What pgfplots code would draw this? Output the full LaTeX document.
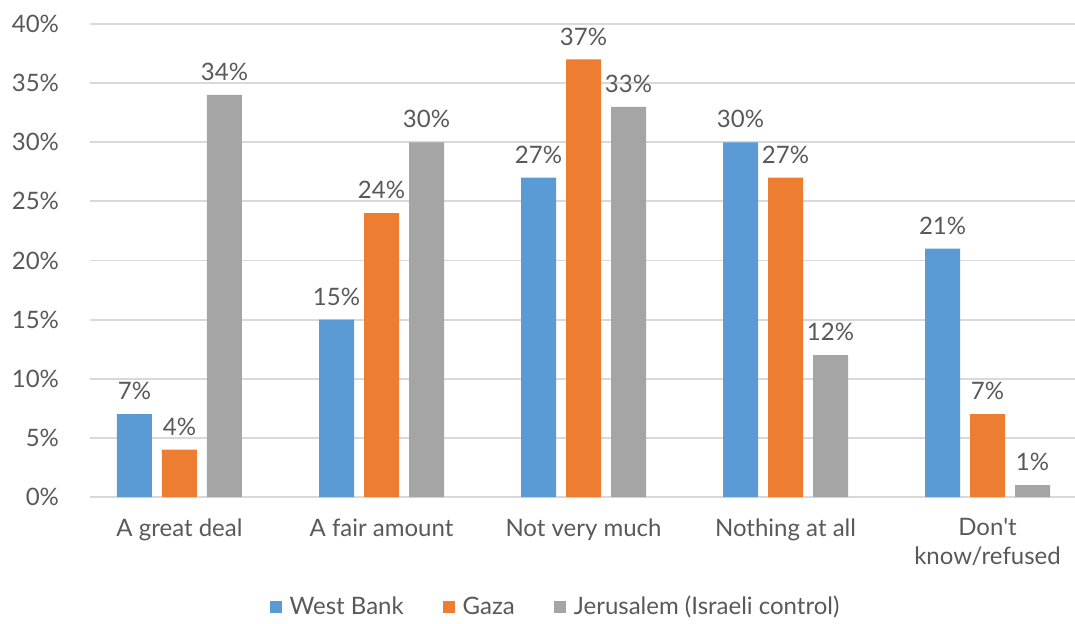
\documentclass[border=0pt]{standalone}
\usepackage{pgfplots}
\pgfplotsset{compat=1.18}
\usetikzlibrary{calc}
\usepackage{fontspec}
\setmainfont{Lato}[Ligatures=TeXOff]
\definecolor{wb}{HTML}{5B9BD5}
\definecolor{gz}{HTML}{ED7D31}
\definecolor{jr}{HTML}{A5A5A5}
\definecolor{gridgray}{HTML}{D9D9D9}
\definecolor{txt}{HTML}{595959}
\begin{document}
\begin{tikzpicture}
\begin{axis}[
    scale only axis,
    width=492.5pt, height=236.5pt,
    ybar=5pt, bar width=17.5pt,
    ymin=0, ymax=40, xmin=-0.443, xmax=4.433,
    ytick={0,5,...,40},
    yticklabel={\pgfmathprintnumber{\tick}\%},
    /pgf/number format/assume math mode=true,
    xtick=data,
    xticklabels={A great deal, A fair amount, Not very much, Nothing at all, {Don't\\know/refused}},
    xticklabel style={align=center, yshift=-3pt},
    yticklabel style={xshift=-12pt},
    ymajorgrids, grid style={draw=gridgray, line width=0.9pt},
    axis x line*=bottom, axis y line*=left,
    x axis line style={draw=gridgray, line width=0.9pt},
    y axis line style={draw=none},
    tick style={draw=none},
    tick label style={font=\fontsize{12}{14.5}\selectfont, text=txt},
    nodes near coords={\pgfmathprintnumber{\pgfplotspointmeta}\%},
    nodes near coords style={font=\fontsize{12}{14}\selectfont, text=txt, yshift=3.5pt},
    legend style={at={(0.4736,-0.2326)}, anchor=center, draw=none, legend columns=-1,
        font=\fontsize{12}{14}\selectfont, text=txt,
        /tikz/every odd column/.append style={column sep=2pt},
        /tikz/every even column/.append style={column sep=17.5pt}},
    legend image code/.code={\fill[#1] (0pt,-3pt) rectangle (6pt,3pt);},
]
\addplot[fill=wb, draw=none] coordinates {(0,7) (1,15) (2,27) (3,30) (4,21)};
\addplot[fill=gz, draw=none] coordinates {(0,4) (1,24) (2,37) (3,27) (4,7)};
\addplot[fill=jr, draw=none] coordinates {(0,34) (1,30) (2,33) (3,12) (4,1)};
\legend{West Bank, Gaza, Jerusalem (Israeli control)}
\end{axis}
\pgfresetboundingbox
\path[use as bounding box] ($(current axis.south west)+(-45pt,-63pt)$) rectangle ($(current axis.north east)+(0pt,12pt)$);
\end{tikzpicture}
\end{document}
